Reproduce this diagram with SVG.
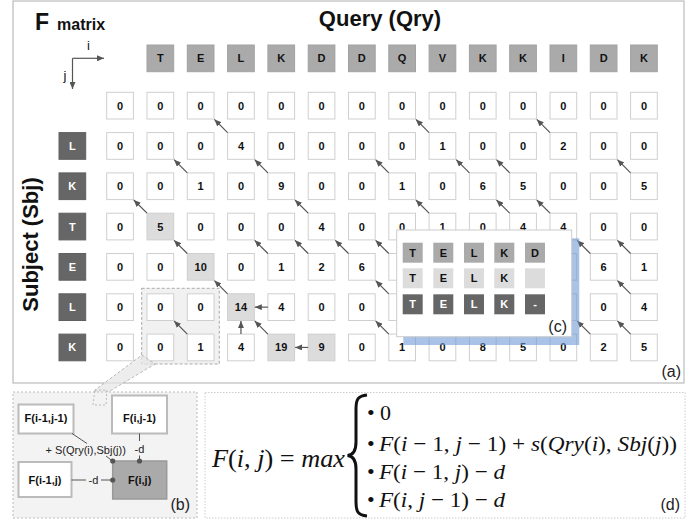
<svg xmlns="http://www.w3.org/2000/svg" width="698" height="520" viewBox="0 0 698 520">
<defs>
<marker id="ah" markerUnits="userSpaceOnUse" markerWidth="7" markerHeight="6" viewBox="0 0 7 6" refX="7" refY="3" orient="auto"><path d="M0,0 L7,3 L0,6 z" fill="#555"/></marker>
<style>
.sans{font-family:"Liberation Sans",Arial,sans-serif}
.cell rect{fill:#fff;stroke:#cfcfcf;stroke-width:1}
.cell text,.hd text,.sb text,.ic text{font-family:"Liberation Sans",Arial,sans-serif;font-weight:bold;font-size:11px;text-anchor:middle;fill:#111}
.hl rect{fill:#dcdcdc}
.hd rect{fill:#aaa;stroke:#a2a2a2}
.sb rect{fill:#666;stroke:#606060}
.sb text{fill:#fff}
.conn line{stroke:#555;stroke-width:1.2;marker-end:url(#ah)}
.ia{fill:#aaa}.ib{fill:#dcdcdc}.icc{fill:#666}
.ic .w{fill:#fff}
.bx{fill:#fff;stroke:#bbb;stroke-width:2}
.bt{font-family:"Liberation Sans",Arial,sans-serif;font-weight:bold;font-size:11px;text-anchor:middle;fill:#111}
.lt{font-family:"Liberation Sans",Arial,sans-serif;font-size:11px;fill:#222}
.pl{font-family:"Liberation Sans",Arial,sans-serif;font-size:16px;fill:#222}
.bl line{stroke:#555;stroke-width:1}
.mt{font-family:"Liberation Serif","DejaVu Serif",serif;font-size:22px;fill:#111}
.mb{font-family:"Liberation Serif","DejaVu Serif",serif;font-size:25px;fill:#111}
.bu{font-family:"Liberation Serif","DejaVu Serif",serif;font-size:22px;fill:#111}
.it{font-style:italic}
</style>
</defs>
<rect width="698" height="520" fill="#fff"/>
<!-- panel a frame -->
<rect x="13" y="1" width="671" height="382" fill="#fff" stroke="#bbb" stroke-width="1.2"/>
<text x="35" y="29.5" class="sans" font-weight="bold" font-size="23" fill="#111">F</text>
<text x="57" y="29.5" class="sans" font-weight="bold" font-size="16" fill="#111">matrix</text>
<text x="380" y="26" class="sans" font-weight="bold" font-size="22" fill="#111" text-anchor="middle">Query (Qry)</text>
<text transform="translate(37.5 244.5) rotate(-90)" class="sans" font-weight="bold" font-size="22" fill="#111" text-anchor="middle">Subject (Sbj)</text>
<g id="axes">
<line x1="72.5" y1="58.3" x2="104" y2="58.3" stroke="#555" stroke-width="1.2" marker-end="url(#ah)"/>
<line x1="72.5" y1="58.3" x2="72.5" y2="89" stroke="#555" stroke-width="1.2" marker-end="url(#ah)"/>
<text x="88.5" y="50" class="sans" font-size="13" fill="#111" text-anchor="middle">i</text>
<text x="65" y="80" class="sans" font-size="13" fill="#111" text-anchor="middle">j</text>
</g>
<!-- dashed selection box -->
<rect x="141.7" y="288.3" width="77.6" height="75.7" fill="#f1f1f1" stroke="#aaa" stroke-dasharray="3 2"/>
<!-- query header -->
<g id="q1" class="hd" transform="translate(147 45)"><rect width="26.7" height="26.7"/><text x="13.35" y="17.4">T</text></g>
<g id="q2" class="hd" transform="translate(187.3 45)"><rect width="26.7" height="26.7"/><text x="13.35" y="17.4">E</text></g>
<g id="q3" class="hd" transform="translate(227.6 45)"><rect width="26.7" height="26.7"/><text x="13.35" y="17.4">L</text></g>
<g id="q4" class="hd" transform="translate(267.9 45)"><rect width="26.7" height="26.7"/><text x="13.35" y="17.4">K</text></g>
<g id="q5" class="hd" transform="translate(308.2 45)"><rect width="26.7" height="26.7"/><text x="13.35" y="17.4">D</text></g>
<g id="q6" class="hd" transform="translate(348.5 45)"><rect width="26.7" height="26.7"/><text x="13.35" y="17.4">D</text></g>
<g id="q7" class="hd" transform="translate(388.8 45)"><rect width="26.7" height="26.7"/><text x="13.35" y="17.4">Q</text></g>
<g id="q8" class="hd" transform="translate(429.1 45)"><rect width="26.7" height="26.7"/><text x="13.35" y="17.4">V</text></g>
<g id="q9" class="hd" transform="translate(469.4 45)"><rect width="26.7" height="26.7"/><text x="13.35" y="17.4">K</text></g>
<g id="q10" class="hd" transform="translate(509.7 45)"><rect width="26.7" height="26.7"/><text x="13.35" y="17.4">K</text></g>
<g id="q11" class="hd" transform="translate(550 45)"><rect width="26.7" height="26.7"/><text x="13.35" y="17.4">I</text></g>
<g id="q12" class="hd" transform="translate(590.3 45)"><rect width="26.7" height="26.7"/><text x="13.35" y="17.4">D</text></g>
<g id="q13" class="hd" transform="translate(630.6 45)"><rect width="26.7" height="26.7"/><text x="13.35" y="17.4">K</text></g>
<!-- subject header -->
<g id="s1" class="sb" transform="translate(59 132.6)"><rect width="26.7" height="26.7"/><text x="13.35" y="17.4">L</text></g>
<g id="s2" class="sb" transform="translate(59 172.9)"><rect width="26.7" height="26.7"/><text x="13.35" y="17.4">K</text></g>
<g id="s3" class="sb" transform="translate(59 213.2)"><rect width="26.7" height="26.7"/><text x="13.35" y="17.4">T</text></g>
<g id="s4" class="sb" transform="translate(59 253.5)"><rect width="26.7" height="26.7"/><text x="13.35" y="17.4">E</text></g>
<g id="s5" class="sb" transform="translate(59 293.8)"><rect width="26.7" height="26.7"/><text x="13.35" y="17.4">L</text></g>
<g id="s6" class="sb" transform="translate(59 334.1)"><rect width="26.7" height="26.7"/><text x="13.35" y="17.4">K</text></g>
<!-- row 0 -->
<g id="m0_0" class="cell" transform="translate(106.7 92.3)"><rect width="26.7" height="26.7"/><text x="13.35" y="17.4">0</text></g>
<g id="m0_1" class="cell" transform="translate(147 92.3)"><rect width="26.7" height="26.7"/><text x="13.35" y="17.4">0</text></g>
<g id="m0_2" class="cell" transform="translate(187.3 92.3)"><rect width="26.7" height="26.7"/><text x="13.35" y="17.4">0</text></g>
<g id="m0_3" class="cell" transform="translate(227.6 92.3)"><rect width="26.7" height="26.7"/><text x="13.35" y="17.4">0</text></g>
<g id="m0_4" class="cell" transform="translate(267.9 92.3)"><rect width="26.7" height="26.7"/><text x="13.35" y="17.4">0</text></g>
<g id="m0_5" class="cell" transform="translate(308.2 92.3)"><rect width="26.7" height="26.7"/><text x="13.35" y="17.4">0</text></g>
<g id="m0_6" class="cell" transform="translate(348.5 92.3)"><rect width="26.7" height="26.7"/><text x="13.35" y="17.4">0</text></g>
<g id="m0_7" class="cell" transform="translate(388.8 92.3)"><rect width="26.7" height="26.7"/><text x="13.35" y="17.4">0</text></g>
<g id="m0_8" class="cell" transform="translate(429.1 92.3)"><rect width="26.7" height="26.7"/><text x="13.35" y="17.4">0</text></g>
<g id="m0_9" class="cell" transform="translate(469.4 92.3)"><rect width="26.7" height="26.7"/><text x="13.35" y="17.4">0</text></g>
<g id="m0_10" class="cell" transform="translate(509.7 92.3)"><rect width="26.7" height="26.7"/><text x="13.35" y="17.4">0</text></g>
<g id="m0_11" class="cell" transform="translate(550 92.3)"><rect width="26.7" height="26.7"/><text x="13.35" y="17.4">0</text></g>
<g id="m0_12" class="cell" transform="translate(590.3 92.3)"><rect width="26.7" height="26.7"/><text x="13.35" y="17.4">0</text></g>
<g id="m0_13" class="cell" transform="translate(630.6 92.3)"><rect width="26.7" height="26.7"/><text x="13.35" y="17.4">0</text></g>
<!-- row 1 L -->
<g id="m1_0" class="cell" transform="translate(106.7 132.6)"><rect width="26.7" height="26.7"/><text x="13.35" y="17.4">0</text></g>
<g id="m1_1" class="cell" transform="translate(147 132.6)"><rect width="26.7" height="26.7"/><text x="13.35" y="17.4">0</text></g>
<g id="m1_2" class="cell" transform="translate(187.3 132.6)"><rect width="26.7" height="26.7"/><text x="13.35" y="17.4">0</text></g>
<g id="m1_3" class="cell" transform="translate(227.6 132.6)"><rect width="26.7" height="26.7"/><text x="13.35" y="17.4">4</text></g>
<g id="m1_4" class="cell" transform="translate(267.9 132.6)"><rect width="26.7" height="26.7"/><text x="13.35" y="17.4">0</text></g>
<g id="m1_5" class="cell" transform="translate(308.2 132.6)"><rect width="26.7" height="26.7"/><text x="13.35" y="17.4">0</text></g>
<g id="m1_6" class="cell" transform="translate(348.5 132.6)"><rect width="26.7" height="26.7"/><text x="13.35" y="17.4">0</text></g>
<g id="m1_7" class="cell" transform="translate(388.8 132.6)"><rect width="26.7" height="26.7"/><text x="13.35" y="17.4">0</text></g>
<g id="m1_8" class="cell" transform="translate(429.1 132.6)"><rect width="26.7" height="26.7"/><text x="13.35" y="17.4">1</text></g>
<g id="m1_9" class="cell" transform="translate(469.4 132.6)"><rect width="26.7" height="26.7"/><text x="13.35" y="17.4">0</text></g>
<g id="m1_10" class="cell" transform="translate(509.7 132.6)"><rect width="26.7" height="26.7"/><text x="13.35" y="17.4">0</text></g>
<g id="m1_11" class="cell" transform="translate(550 132.6)"><rect width="26.7" height="26.7"/><text x="13.35" y="17.4">2</text></g>
<g id="m1_12" class="cell" transform="translate(590.3 132.6)"><rect width="26.7" height="26.7"/><text x="13.35" y="17.4">0</text></g>
<g id="m1_13" class="cell" transform="translate(630.6 132.6)"><rect width="26.7" height="26.7"/><text x="13.35" y="17.4">0</text></g>
<!-- row 2 K -->
<g id="m2_0" class="cell" transform="translate(106.7 172.9)"><rect width="26.7" height="26.7"/><text x="13.35" y="17.4">0</text></g>
<g id="m2_1" class="cell" transform="translate(147 172.9)"><rect width="26.7" height="26.7"/><text x="13.35" y="17.4">0</text></g>
<g id="m2_2" class="cell" transform="translate(187.3 172.9)"><rect width="26.7" height="26.7"/><text x="13.35" y="17.4">1</text></g>
<g id="m2_3" class="cell" transform="translate(227.6 172.9)"><rect width="26.7" height="26.7"/><text x="13.35" y="17.4">0</text></g>
<g id="m2_4" class="cell" transform="translate(267.9 172.9)"><rect width="26.7" height="26.7"/><text x="13.35" y="17.4">9</text></g>
<g id="m2_5" class="cell" transform="translate(308.2 172.9)"><rect width="26.7" height="26.7"/><text x="13.35" y="17.4">0</text></g>
<g id="m2_6" class="cell" transform="translate(348.5 172.9)"><rect width="26.7" height="26.7"/><text x="13.35" y="17.4">0</text></g>
<g id="m2_7" class="cell" transform="translate(388.8 172.9)"><rect width="26.7" height="26.7"/><text x="13.35" y="17.4">1</text></g>
<g id="m2_8" class="cell" transform="translate(429.1 172.9)"><rect width="26.7" height="26.7"/><text x="13.35" y="17.4">0</text></g>
<g id="m2_9" class="cell" transform="translate(469.4 172.9)"><rect width="26.7" height="26.7"/><text x="13.35" y="17.4">6</text></g>
<g id="m2_10" class="cell" transform="translate(509.7 172.9)"><rect width="26.7" height="26.7"/><text x="13.35" y="17.4">5</text></g>
<g id="m2_11" class="cell" transform="translate(550 172.9)"><rect width="26.7" height="26.7"/><text x="13.35" y="17.4">0</text></g>
<g id="m2_12" class="cell" transform="translate(590.3 172.9)"><rect width="26.7" height="26.7"/><text x="13.35" y="17.4">0</text></g>
<g id="m2_13" class="cell" transform="translate(630.6 172.9)"><rect width="26.7" height="26.7"/><text x="13.35" y="17.4">5</text></g>
<!-- row 3 T -->
<g id="m3_0" class="cell" transform="translate(106.7 213.2)"><rect width="26.7" height="26.7"/><text x="13.35" y="17.4">0</text></g>
<g id="m3_1" class="cell hl" transform="translate(147 213.2)"><rect width="26.7" height="26.7"/><text x="13.35" y="17.4">5</text></g>
<g id="m3_2" class="cell" transform="translate(187.3 213.2)"><rect width="26.7" height="26.7"/><text x="13.35" y="17.4">0</text></g>
<g id="m3_3" class="cell" transform="translate(227.6 213.2)"><rect width="26.7" height="26.7"/><text x="13.35" y="17.4">0</text></g>
<g id="m3_4" class="cell" transform="translate(267.9 213.2)"><rect width="26.7" height="26.7"/><text x="13.35" y="17.4">0</text></g>
<g id="m3_5" class="cell" transform="translate(308.2 213.2)"><rect width="26.7" height="26.7"/><text x="13.35" y="17.4">4</text></g>
<g id="m3_6" class="cell" transform="translate(348.5 213.2)"><rect width="26.7" height="26.7"/><text x="13.35" y="17.4">0</text></g>
<g id="m3_7" class="cell" transform="translate(388.8 213.2)"><rect width="26.7" height="26.7"/><text x="13.35" y="17.4">0</text></g>
<g id="m3_8" class="cell" transform="translate(429.1 213.2)"><rect width="26.7" height="26.7"/><text x="13.35" y="17.4">1</text></g>
<g id="m3_9" class="cell" transform="translate(469.4 213.2)"><rect width="26.7" height="26.7"/><text x="13.35" y="17.4">0</text></g>
<g id="m3_10" class="cell" transform="translate(509.7 213.2)"><rect width="26.7" height="26.7"/><text x="13.35" y="17.4">4</text></g>
<g id="m3_11" class="cell" transform="translate(550 213.2)"><rect width="26.7" height="26.7"/><text x="13.35" y="17.4">4</text></g>
<g id="m3_12" class="cell" transform="translate(590.3 213.2)"><rect width="26.7" height="26.7"/><text x="13.35" y="17.4">0</text></g>
<g id="m3_13" class="cell" transform="translate(630.6 213.2)"><rect width="26.7" height="26.7"/><text x="13.35" y="17.4">0</text></g>
<!-- row 4 E -->
<g id="m4_0" class="cell" transform="translate(106.7 253.5)"><rect width="26.7" height="26.7"/><text x="13.35" y="17.4">0</text></g>
<g id="m4_1" class="cell" transform="translate(147 253.5)"><rect width="26.7" height="26.7"/><text x="13.35" y="17.4">0</text></g>
<g id="m4_2" class="cell hl" transform="translate(187.3 253.5)"><rect width="26.7" height="26.7"/><text x="13.35" y="17.4">10</text></g>
<g id="m4_3" class="cell" transform="translate(227.6 253.5)"><rect width="26.7" height="26.7"/><text x="13.35" y="17.4">0</text></g>
<g id="m4_4" class="cell" transform="translate(267.9 253.5)"><rect width="26.7" height="26.7"/><text x="13.35" y="17.4">1</text></g>
<g id="m4_5" class="cell" transform="translate(308.2 253.5)"><rect width="26.7" height="26.7"/><text x="13.35" y="17.4">2</text></g>
<g id="m4_6" class="cell" transform="translate(348.5 253.5)"><rect width="26.7" height="26.7"/><text x="13.35" y="17.4">6</text></g>
<g id="m4_7" class="cell" transform="translate(388.8 253.5)"><rect width="26.7" height="26.7"/></g>
<g id="m4_8" class="cell" transform="translate(429.1 253.5)"><rect width="26.7" height="26.7"/></g>
<g id="m4_9" class="cell" transform="translate(469.4 253.5)"><rect width="26.7" height="26.7"/></g>
<g id="m4_10" class="cell" transform="translate(509.7 253.5)"><rect width="26.7" height="26.7"/></g>
<g id="m4_11" class="cell" transform="translate(550 253.5)"><rect width="26.7" height="26.7"/></g>
<g id="m4_12" class="cell" transform="translate(590.3 253.5)"><rect width="26.7" height="26.7"/><text x="13.35" y="17.4">6</text></g>
<g id="m4_13" class="cell" transform="translate(630.6 253.5)"><rect width="26.7" height="26.7"/><text x="13.35" y="17.4">1</text></g>
<!-- row 5 L -->
<g id="m5_0" class="cell" transform="translate(106.7 293.8)"><rect width="26.7" height="26.7"/><text x="13.35" y="17.4">0</text></g>
<g id="m5_1" class="cell" transform="translate(147 293.8)"><rect width="26.7" height="26.7"/><text x="13.35" y="17.4">0</text></g>
<g id="m5_2" class="cell" transform="translate(187.3 293.8)"><rect width="26.7" height="26.7"/><text x="13.35" y="17.4">0</text></g>
<g id="m5_3" class="cell hl" transform="translate(227.6 293.8)"><rect width="26.7" height="26.7"/><text x="13.35" y="17.4">14</text></g>
<g id="m5_4" class="cell" transform="translate(267.9 293.8)"><rect width="26.7" height="26.7"/><text x="13.35" y="17.4">4</text></g>
<g id="m5_5" class="cell" transform="translate(308.2 293.8)"><rect width="26.7" height="26.7"/><text x="13.35" y="17.4">0</text></g>
<g id="m5_6" class="cell" transform="translate(348.5 293.8)"><rect width="26.7" height="26.7"/><text x="13.35" y="17.4">0</text></g>
<g id="m5_7" class="cell" transform="translate(388.8 293.8)"><rect width="26.7" height="26.7"/></g>
<g id="m5_8" class="cell" transform="translate(429.1 293.8)"><rect width="26.7" height="26.7"/></g>
<g id="m5_9" class="cell" transform="translate(469.4 293.8)"><rect width="26.7" height="26.7"/></g>
<g id="m5_10" class="cell" transform="translate(509.7 293.8)"><rect width="26.7" height="26.7"/></g>
<g id="m5_11" class="cell" transform="translate(550 293.8)"><rect width="26.7" height="26.7"/></g>
<g id="m5_12" class="cell" transform="translate(590.3 293.8)"><rect width="26.7" height="26.7"/><text x="13.35" y="17.4">0</text></g>
<g id="m5_13" class="cell" transform="translate(630.6 293.8)"><rect width="26.7" height="26.7"/><text x="13.35" y="17.4">4</text></g>
<!-- row 6 K -->
<g id="m6_0" class="cell" transform="translate(106.7 334.1)"><rect width="26.7" height="26.7"/><text x="13.35" y="17.4">0</text></g>
<g id="m6_1" class="cell" transform="translate(147 334.1)"><rect width="26.7" height="26.7"/><text x="13.35" y="17.4">0</text></g>
<g id="m6_2" class="cell" transform="translate(187.3 334.1)"><rect width="26.7" height="26.7"/><text x="13.35" y="17.4">1</text></g>
<g id="m6_3" class="cell" transform="translate(227.6 334.1)"><rect width="26.7" height="26.7"/><text x="13.35" y="17.4">4</text></g>
<g id="m6_4" class="cell hl" transform="translate(267.9 334.1)"><rect width="26.7" height="26.7"/><text x="13.35" y="17.4">19</text></g>
<g id="m6_5" class="cell hl" transform="translate(308.2 334.1)"><rect width="26.7" height="26.7"/><text x="13.35" y="17.4">9</text></g>
<g id="m6_6" class="cell" transform="translate(348.5 334.1)"><rect width="26.7" height="26.7"/><text x="13.35" y="17.4">0</text></g>
<g id="m6_7" class="cell" transform="translate(388.8 334.1)"><rect width="26.7" height="26.7"/><text x="13.35" y="17.4">1</text></g>
<g id="m6_8" class="cell" transform="translate(429.1 334.1)"><rect width="26.7" height="26.7"/><text x="13.35" y="17.4">0</text></g>
<g id="m6_9" class="cell" transform="translate(469.4 334.1)"><rect width="26.7" height="26.7"/><text x="13.35" y="17.4">8</text></g>
<g id="m6_10" class="cell" transform="translate(509.7 334.1)"><rect width="26.7" height="26.7"/><text x="13.35" y="17.4">5</text></g>
<g id="m6_11" class="cell" transform="translate(550 334.1)"><rect width="26.7" height="26.7"/><text x="13.35" y="17.4">0</text></g>
<g id="m6_12" class="cell" transform="translate(590.3 334.1)"><rect width="26.7" height="26.7"/><text x="13.35" y="17.4">2</text></g>
<g id="m6_13" class="cell" transform="translate(630.6 334.1)"><rect width="26.7" height="26.7"/><text x="13.35" y="17.4">5</text></g>
<!-- connectors -->
<g id="connectors" class="conn">
<line x1="227.6" y1="132.6" x2="214.4" y2="119.4"/>
<line x1="429.1" y1="132.6" x2="415.9" y2="119.4"/>
<line x1="550" y1="132.6" x2="536.8" y2="119.4"/>
<line x1="187.3" y1="172.9" x2="174.1" y2="159.7"/>
<line x1="267.9" y1="172.9" x2="254.7" y2="159.7"/>
<line x1="388.8" y1="172.9" x2="375.6" y2="159.7"/>
<line x1="469.4" y1="172.9" x2="456.2" y2="159.7"/>
<line x1="509.7" y1="172.9" x2="496.5" y2="159.7"/>
<line x1="630.6" y1="172.9" x2="617.4" y2="159.7"/>
<line x1="147" y1="213.2" x2="133.8" y2="200"/>
<line x1="308.2" y1="213.2" x2="295" y2="200"/>
<line x1="429.1" y1="213.2" x2="415.9" y2="200"/>
<line x1="509.7" y1="213.2" x2="496.5" y2="200"/>
<line x1="550" y1="213.2" x2="536.8" y2="200"/>
<line x1="187.3" y1="253.5" x2="174.1" y2="240.3"/>
<line x1="267.9" y1="253.5" x2="254.7" y2="240.3"/>
<line x1="308.2" y1="253.5" x2="295" y2="240.3"/>
<line x1="348.5" y1="253.5" x2="335.3" y2="240.3"/>
<line x1="388.8" y1="253.5" x2="375.6" y2="240.3"/>
<line x1="590.3" y1="253.5" x2="577.1" y2="240.3"/>
<line x1="630.6" y1="253.5" x2="617.4" y2="240.3"/>
<line x1="227.6" y1="293.8" x2="214.4" y2="280.6"/>
<line x1="388.8" y1="293.8" x2="375.6" y2="280.6"/>
<line x1="630.6" y1="293.8" x2="617.4" y2="280.6"/>
<line x1="187.3" y1="334.1" x2="174.1" y2="320.9"/>
<line x1="267.9" y1="334.1" x2="254.7" y2="320.9"/>
<line x1="388.8" y1="334.1" x2="375.6" y2="320.9"/>
<line x1="590.3" y1="334.1" x2="577.1" y2="320.9"/>
<line x1="630.6" y1="334.1" x2="617.4" y2="320.9"/>
<line x1="240.95" y1="334.1" x2="240.95" y2="321"/>
<line x1="267.9" y1="307.15" x2="254.8" y2="307.15"/>
<line x1="308.2" y1="347.45" x2="295.1" y2="347.45"/>
</g>
<!-- callout band -->
<polygon points="142,355 155,364 110,391 107,405 93,405 95,390" fill="#e6e6e6" fill-opacity="0.7" stroke="#aaa" stroke-width="0.8" stroke-dasharray="3 2"/>
<text x="681" y="376.5" class="pl" text-anchor="end">(a)</text>
<!-- inset c -->
<g id="inset_c">
<rect x="403.3" y="238.3" width="176" height="106.7" fill="#6f9ad8" fill-opacity="0.6"/>
<rect x="396.7" y="230" width="175" height="106.7" fill="#fff" stroke="#ccc"/>
<g class="ic">
<rect class="ia" x="402.7" y="242.7" width="20" height="20"/><text x="412.7" y="256.7">T</text>
<rect class="ia" x="433.3" y="242.7" width="20" height="20"/><text x="443.3" y="256.7">E</text>
<rect class="ia" x="464" y="242.7" width="20" height="20"/><text x="474" y="256.7">L</text>
<rect class="ia" x="494.3" y="242.7" width="20" height="20"/><text x="504.3" y="256.7">K</text>
<rect class="ia" x="525" y="242.7" width="20" height="20"/><text x="535" y="256.7">D</text>
<rect class="ib" x="402.7" y="268.3" width="20" height="20"/><text x="412.7" y="282.3">T</text>
<rect class="ib" x="433.3" y="268.3" width="20" height="20"/><text x="443.3" y="282.3">E</text>
<rect class="ib" x="464" y="268.3" width="20" height="20"/><text x="474" y="282.3">L</text>
<rect class="ib" x="494.3" y="268.3" width="20" height="20"/><text x="504.3" y="282.3">K</text>
<rect class="ib" x="525" y="268.3" width="20" height="20"/>
<rect class="icc" x="402.7" y="294.3" width="20" height="20"/><text class="w" x="412.7" y="308.3">T</text>
<rect class="icc" x="433.3" y="294.3" width="20" height="20"/><text class="w" x="443.3" y="308.3">E</text>
<rect class="icc" x="464" y="294.3" width="20" height="20"/><text class="w" x="474" y="308.3">L</text>
<rect class="icc" x="494.3" y="294.3" width="20" height="20"/><text class="w" x="504.3" y="308.3">K</text>
<rect class="icc" x="525" y="294.3" width="20" height="20"/><text class="w" x="535" y="308.3">-</text>
</g>
<text x="567" y="331.5" class="pl" text-anchor="end">(c)</text>
</g>
<!-- panel b -->
<g id="panel_b">
<rect x="13" y="392" width="184" height="126" fill="#f3f3f3" stroke="#bbb" stroke-dasharray="2 2"/>
<polygon points="95,390 107,390 106,405 93,405" fill="none" stroke="#aaa" stroke-width="0.8" stroke-dasharray="2 2"/>
<g id="b_f11"><rect class="bx" x="18.5" y="404.5" width="55" height="29"/><text class="bt" x="46" y="422">F(i-1,j-1)</text></g>
<g id="b_f0_1"><rect class="bx" x="112" y="395.5" width="55" height="38"/><text class="bt" x="139.5" y="422">F(i,j-1)</text></g>
<g id="b_f1_0"><rect class="bx" x="18.5" y="462" width="53" height="35"/><text class="bt" x="45" y="484">F(i-1,j)</text></g>
<g id="b_f00"><rect x="112.7" y="461" width="54" height="38" fill="#aaa" stroke="#999" stroke-width="1.5"/><text class="bt" x="139.7" y="484">F(i,j)</text></g>
<g class="bl">
<line x1="72" y1="433.5" x2="87" y2="443.5"/>
<line x1="106" y1="456" x2="112.5" y2="461"/>
<line x1="139.5" y1="433.5" x2="139.5" y2="441"/>
<line x1="139.5" y1="455.5" x2="139.5" y2="461"/>
<line x1="71.5" y1="480" x2="86" y2="480"/>
<line x1="101" y1="480" x2="112.7" y2="480"/>
</g>
<circle cx="112.7" cy="461" r="2.6" fill="#555"/>
<circle cx="139.5" cy="461" r="2.6" fill="#555"/>
<circle cx="112.7" cy="480" r="2.6" fill="#555"/>
<text class="lt" x="45.5" y="454">+ S(Qry(i),Sbj(j))</text>
<text class="lt" x="139.5" y="452.5" text-anchor="middle">-d</text>
<text class="lt" x="93.5" y="484" text-anchor="middle">-d</text>
<text x="190" y="510" class="pl" text-anchor="end">(b)</text>
</g>
<!-- panel d -->
<g id="panel_d">
<rect x="205" y="392.5" width="480" height="125.5" fill="#fff" stroke="#ccc" stroke-dasharray="1.5 1.5"/>
<text class="mb" x="212" y="467" textLength="133" lengthAdjust="spacingAndGlyphs"><tspan class="it">F</tspan>(<tspan class="it">i</tspan>, <tspan class="it">j</tspan>) = <tspan class="it">max</tspan></text>
<path d="M367,395 C358,396 356,399 356,409 L356,442 C356,451 353,455 347.5,455.5 C353,456 356,460 356,469 L356,502 C356,512 358,515 367,516" fill="none" stroke="#111" stroke-width="3"/>
<text class="bu" x="367" y="420">•</text><text class="mt" x="380" y="420">0</text>
<text class="bu" x="367" y="451">•</text>
<text class="mt" x="379" y="451" textLength="298" lengthAdjust="spacingAndGlyphs"><tspan class="it">F</tspan>(<tspan class="it">i</tspan> − 1, <tspan class="it">j</tspan> − 1) + <tspan class="it">s</tspan>(<tspan class="it">Qry</tspan>(<tspan class="it">i</tspan>), <tspan class="it">Sbj</tspan>(<tspan class="it">j</tspan>))</text>
<text class="bu" x="367" y="479">•</text>
<text class="mt" x="379" y="479" textLength="126" lengthAdjust="spacingAndGlyphs"><tspan class="it">F</tspan>(<tspan class="it">i</tspan> − 1, <tspan class="it">j</tspan>) − <tspan class="it">d</tspan></text>
<text class="bu" x="367" y="507">•</text>
<text class="mt" x="379" y="507" textLength="126" lengthAdjust="spacingAndGlyphs"><tspan class="it">F</tspan>(<tspan class="it">i</tspan>, <tspan class="it">j</tspan> − 1) − <tspan class="it">d</tspan></text>
<text x="680" y="510" class="pl" text-anchor="end">(d)</text>
</g>
</svg>
